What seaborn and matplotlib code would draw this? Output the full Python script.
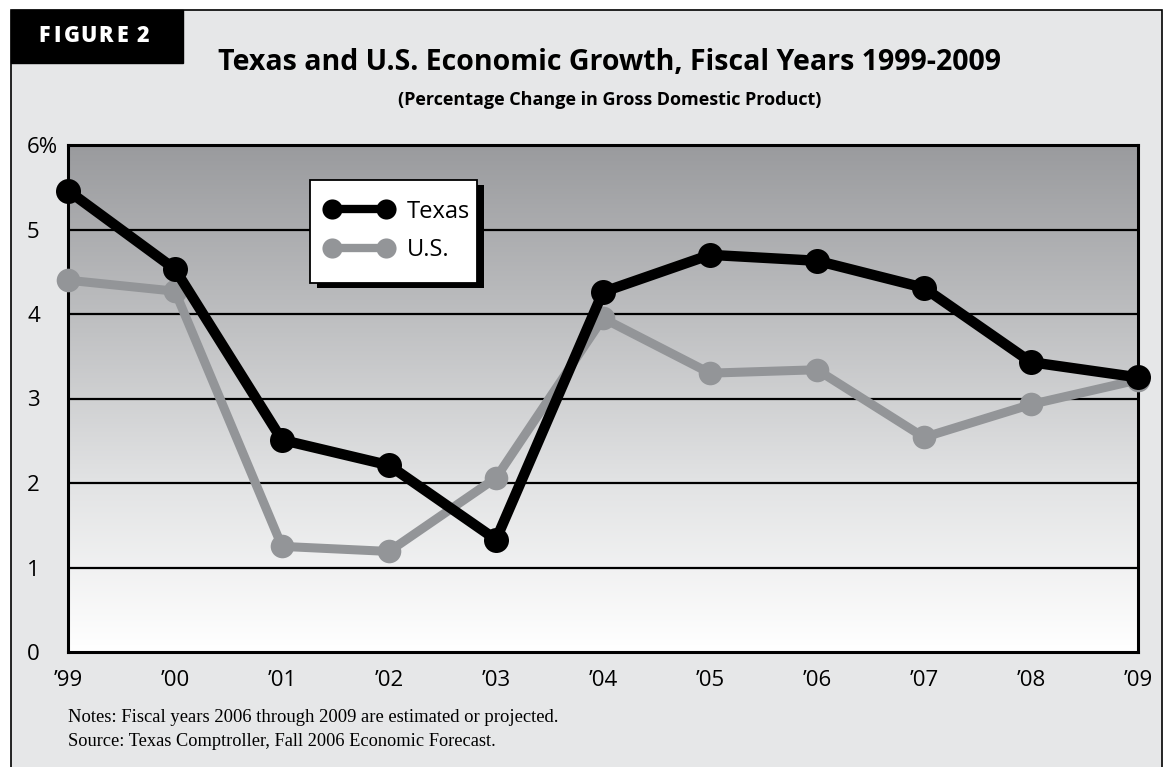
import numpy as np
import pandas as pd
import matplotlib
matplotlib.use("Agg")
import matplotlib.pyplot as plt
from matplotlib.patches import Rectangle
import seaborn as sns

# Chart data
years = ["\u201999", "\u201900", "\u201901", "\u201902", "\u201903", "\u201904",
         "\u201905", "\u201906", "\u201907", "\u201908", "\u201909"]
texas = [5.46, 4.53, 2.51, 2.21, 1.33, 4.26, 4.70, 4.63, 4.31, 3.43, 3.25]
us = [4.40, 4.27, 1.25, 1.19, 2.06, 3.95, 3.30, 3.34, 2.54, 2.93, 3.22]
y_ticks = [0, 1, 2, 3, 4, 5, 6]
y_labels = ["0", "1", "2", "3", "4", "5", "6%"]

title = "Texas and U.S. Economic Growth, Fiscal Years 1999-2009"
subtitle = "(Percentage Change in Gross Domestic Product)"
notes = "Notes: Fiscal years 2006 through 2009 are estimated or projected."
source = "Source: Texas Comptroller, Fall 2006 Economic Forecast."

sns.set_theme(style="white")
plt.rcParams['font.family'] = ['Open Sans', 'DejaVu Sans']
plt.rcParams['text.color'] = 'black'
plt.rcParams['xtick.color'] = 'black'
plt.rcParams['ytick.color'] = 'black'

df = pd.DataFrame({
    "idx": list(range(len(years))) * 2,
    "value": texas + us,
    "series": ["Texas"] * len(years) + ["U.S."] * len(years),
})

fig = plt.figure(figsize=(11.64, 7.67), dpi=100)
fig.patch.set_facecolor("white")

W, H = 1164, 767


def fbox(x0, y0, x1, y1):
    # pixel box (top-left origin) -> figure fraction rect args
    return (x0 / W, 1 - y1 / H), (x1 - x0) / W, (y1 - y0) / H


# outer panel
fig.patches.append(Rectangle((11 / W, -0.01), (1162 - 11) / W, 1 - 10 / H + 0.01,
                             transform=fig.transFigure, facecolor="#e6e7e8",
                             edgecolor="black", linewidth=1.2, zorder=-2))
# FIGURE 2 tab
fig.patches.append(Rectangle(*fbox(11, 10, 183, 63), transform=fig.transFigure,
                             facecolor="black", edgecolor="black", linewidth=1,
                             zorder=-1))
for ch, cx in zip("FIGURE2", [44, 57.5, 71.5, 89, 106, 122.5, 143]):
    fig.text(cx / W, 1 - 36 / H, ch, color="white", fontsize=15.5,
             fontweight="heavy", ha="center", va="center")

fig.text(609 / W, 1 - 63 / H, title, fontsize=20.5, fontweight="bold",
         ha="center", va="center")
fig.text(610 / W, 1 - 100 / H, subtitle, fontsize=13, fontweight="bold",
         ha="center", va="center")

ax = fig.add_axes([68 / W, 1 - 652 / H, (1138 - 68) / W, (652 - 145) / H])
ax.set_zorder(1)
ax.set_xlim(0, len(years) - 1)
ax.set_ylim(0, 6)

# gradient background
grad = np.linspace(0, 1, 256).reshape(-1, 1)
cmap = matplotlib.colors.LinearSegmentedColormap.from_list(
    "bg", ["#ffffff", "#e2e3e4", "#bdbec0", "#9a9b9e"])
ax.imshow(grad, extent=[0, len(years) - 1, 0, 6], origin="lower",
          aspect="auto", cmap=cmap, zorder=0)

for t in y_ticks[1:-1]:
    ax.axhline(t, color="black", linewidth=1.6, zorder=1)

sns.lineplot(data=df[df.series == "U.S."], x="idx", y="value", color="#939598",
             linewidth=6.5, marker="o", markersize=17, markeredgewidth=0,
             label="U.S.", ax=ax, zorder=4, clip_on=False)
sns.lineplot(data=df[df.series == "Texas"], x="idx", y="value", color="black",
             linewidth=7.5, marker="o", markersize=18, markeredgewidth=0,
             label="Texas", ax=ax, zorder=5, clip_on=False)

for s in ax.spines.values():
    s.set_color("black")
    s.set_linewidth(2.2)
    s.set_zorder(3)

ax.set_xticks(range(len(years)))
ax.set_xticklabels(years, fontsize=16)
ax.set_yticks(y_ticks)
ax.set_yticklabels(y_labels, fontsize=16)
for lbl in ax.get_yticklabels():
    lbl.set_horizontalalignment("left")
ax.tick_params(axis="x", pad=13, length=0)
ax.tick_params(axis="y", pad=29.5, length=0)
ax.set_xlabel("")
ax.set_ylabel("")

# legend: hand-drawn frame with a hard black shadow
ax.add_patch(Rectangle(*fbox(317, 185, 484, 288), transform=fig.transFigure,
                       facecolor="black", edgecolor="none", zorder=8,
                       clip_on=False))
ax.add_patch(Rectangle(*fbox(310, 180, 477, 283), transform=fig.transFigure,
                       facecolor="white", edgecolor="black", linewidth=1.3,
                       zorder=9, clip_on=False))
handles, labels = ax.get_legend_handles_labels()
order = [labels.index("Texas"), labels.index("U.S.")]
leg = ax.legend([handles[i] for i in order], [labels[i] for i in order],
                loc="center left", bbox_to_anchor=(325 / W, 1 - 231 / H),
                bbox_transform=fig.transFigure, numpoints=2, handlelength=2.89,
                fontsize=17, frameon=False, borderpad=0, labelspacing=0.62,
                handletextpad=0.585, borderaxespad=0)
for ln in leg.get_lines():
    ln.set_markersize(14.5)
    ln.set_linewidth(6)
leg.set_zorder(10)

fig.text(68 / W, 1 - 717 / H, notes, fontsize=13.4, family="Liberation Serif",
         ha="left", va="center")
fig.text(68 / W, 1 - 741 / H, source, fontsize=13.2, family="Liberation Serif",
         ha="left", va="center")

fig.savefig("out.png", dpi=100)
